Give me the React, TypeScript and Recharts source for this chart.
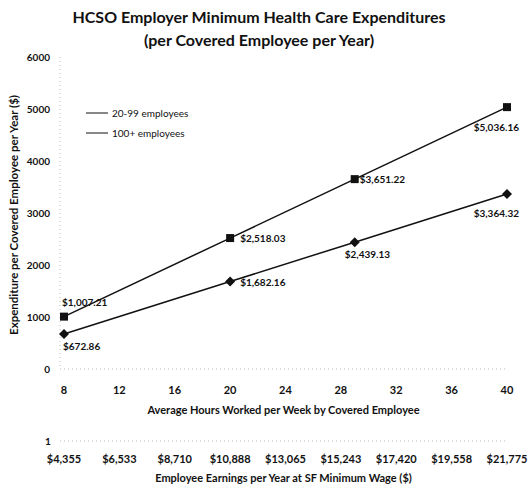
import React from 'react';
import { LineChart, Line, XAxis, YAxis, Legend, LabelList } from 'recharts';

const hours = [8, 20, 29, 40];
const smallEmployer = [672.86, 1682.16, 2439.13, 3364.32]; // 20-99 employees
const largeEmployer = [1007.21, 2518.03, 3651.22, 5036.16]; // 100+ employees
const hourTicks = [8, 12, 16, 20, 24, 28, 32, 36, 40];
const earningsTicks = ['$4,355', '$6,533', '$8,710', '$10,888', '$13,065', '$15,243', '$17,420', '$19,558', '$21,775'];
const yTicks = [0, 1000, 2000, 3000, 4000, 5000, 6000];
const seriesNames = ['20-99 employees', '100+ employees'];

const data = hours.map((h, i) => ({ hours: h, small: smallEmployer[i], large: largeEmployer[i] }));

const FONT = 'Lato, "Open Sans", sans-serif';
const INK = '#111';
const AXIS = '#bbb';

const fmtMoney = (v: number) =>
  '$' + v.toLocaleString('en-US', { minimumFractionDigits: 2, maximumFractionDigits: 2 });

type Place = { anchor: 'start' | 'end' | 'middle'; dx: number; dy: number };
const largePlaces: Place[] = [
  { anchor: 'start', dx: -2, dy: -15 },
  { anchor: 'start', dx: 10, dy: 0 },
  { anchor: 'start', dx: 5, dy: 0 },
  { anchor: 'end', dx: 12, dy: 20 },
];
const smallPlaces: Place[] = [
  { anchor: 'start', dx: -1, dy: 12 },
  { anchor: 'start', dx: 10, dy: 0 },
  { anchor: 'start', dx: -10, dy: 12 },
  { anchor: 'end', dx: 12, dy: 19 },
];

const makeLabel = (places: Place[]) => (props: any) => {
  const { x, y, value, index } = props;
  const p = places[index] || places[0];
  return (
    <text
      x={x + p.dx}
      y={y + p.dy}
      textAnchor={p.anchor}
      dominantBaseline="central"
      fontSize={10}
      fontWeight={700}
      fill={INK}
      fontFamily={FONT}
    >
      {fmtMoney(value)}
    </text>
  );
};

const SquareDot = (props: any) => {
  const { cx, cy } = props;
  if (cx == null || cy == null) return null;
  return <rect x={cx - 4} y={cy - 4} width={8} height={8} fill={INK} />;
};

const DiamondDot = (props: any) => {
  const { cx, cy } = props;
  if (cx == null || cy == null) return null;
  const r = 5;
  return <polygon points={`${cx},${cy - r} ${cx + r},${cy} ${cx},${cy + r} ${cx - r},${cy}`} fill={INK} />;
};

const LegendContent = () => (
  <div style={{ fontFamily: FONT, fontSize: 10, color: INK }}>
    {seriesNames.map((n) => (
      <div key={n} style={{ display: 'flex', alignItems: 'center', height: 20 }}>
        <svg width={24} height={4} style={{ marginRight: 2 }}>
          <line x1={0} y1={2} x2={22} y2={2} stroke={INK} strokeWidth={1} />
        </svg>
        <span>{n}</span>
      </div>
    ))}
  </div>
);

const HoursAxisLabel = (props: any) => {
  const vb = props.viewBox || {};
  return (
    <text
      x={vb.x + vb.width / 2}
      y={vb.y + 45}
      textAnchor="middle"
      fontSize={11}
      fontWeight={700}
      fill={INK}
      fontFamily={FONT}
    >
      Average Hours Worked per Week by Covered Employee
    </text>
  );
};

const EarningsAxisLabel = (props: any) => {
  const vb = props.viewBox || {};
  return (
    <g>
      <text x={48} y={vb.y + 4} textAnchor="middle" fontSize={10} fontWeight={700} fill={INK} fontFamily={FONT}>
        1
      </text>
      <text
        x={vb.x + vb.width / 2}
        y={vb.y + 41}
        textAnchor="middle"
        fontSize={11}
        fontWeight={700}
        fill={INK}
        fontFamily={FONT}
      >
        Employee Earnings per Year at SF Minimum Wage ($)
      </text>
    </g>
  );
};

const YAxisLabel = () => {
  const cy = 215;
  return (
    <text
      x={13}
      y={cy}
      transform={`rotate(-90, 13, ${cy})`}
      textAnchor="middle"
      dominantBaseline="central"
      fontSize={11.5}
      fontWeight={700}
      fill={INK}
      fontFamily={FONT}
    >
      Expenditure per Covered Employee per Year ($)
    </text>
  );
};

export default function App() {
  return (
    <div
      style={{
        position: 'absolute',
        left: 0,
        top: 0,
        width: 528,
        height: 488,
        background: '#fff',
        fontFamily: FONT,
        color: INK,
      }}
    >
      <div
        style={{
          position: 'absolute',
          left: 0,
          width: 518,
          top: 5,
          textAlign: 'center',
          fontSize: 16,
          fontWeight: 700,
          lineHeight: '23px',
          zIndex: 2,
        }}
      >
        <div>HCSO Employer Minimum Health Care Expenditures</div>
        <div>(per Covered Employee per Year)</div>
      </div>
      <LineChart
        width={528}
        height={488}
        data={data}
        margin={{ top: 57, right: 21, bottom: 0, left: 10 }}
      >
        <XAxis
          dataKey="hours"
          type="number"
          domain={[8, 40]}
          ticks={hourTicks}
          padding={{ left: 4, right: 0 }}
          height={72}
          tickSize={0}
          tickMargin={17}
          tickLine={false}
          axisLine={{ stroke: AXIS, strokeDasharray: '1 3' }}
          tick={{ fontSize: 11, fontWeight: 700, fill: INK }}
          label={<HoursAxisLabel />}
          allowDecimals={false}
        />
        <XAxis
          xAxisId="earn"
          dataKey="hours"
          type="number"
          domain={[8, 40]}
          ticks={hourTicks}
          padding={{ left: 4, right: 0 }}
          height={47}
          tickSize={0}
          tickMargin={14}
          tickLine={false}
          axisLine={{ stroke: AXIS, strokeDasharray: '1 3' }}
          tick={{ fontSize: 11, fontWeight: 700, fill: INK }}
          tickFormatter={(v: number) => earningsTicks[hourTicks.indexOf(v)] ?? ''}
          label={<EarningsAxisLabel />}
        />
        <YAxis
          type="number"
          domain={[0, 6000]}
          ticks={yTicks}
          width={50}
          tickSize={0}
          tickMargin={10}
          tickLine={false}
          axisLine={{ stroke: AXIS, strokeDasharray: '1 3' }}
          tick={{ fontSize: 10, fontWeight: 700, fill: INK }}
          label={<YAxisLabel />}
        />
        <Legend
          layout="horizontal"
          verticalAlign="middle"
          align="center"
          content={<LegendContent />}
          wrapperStyle={{ left: 86, top: 103, width: 140, height: 40 }}
        />
        <Line
          dataKey="small"
          name={seriesNames[0]}
          stroke={INK}
          strokeWidth={1.5}
          dot={<DiamondDot />}
          activeDot={false}
          isAnimationActive={false}
        >
          <LabelList dataKey="small" content={makeLabel(smallPlaces)} />
        </Line>
        <Line
          dataKey="large"
          name={seriesNames[1]}
          stroke={INK}
          strokeWidth={1.5}
          dot={<SquareDot />}
          activeDot={false}
          isAnimationActive={false}
        >
          <LabelList dataKey="large" content={makeLabel(largePlaces)} />
        </Line>
      </LineChart>
    </div>
  );
}
